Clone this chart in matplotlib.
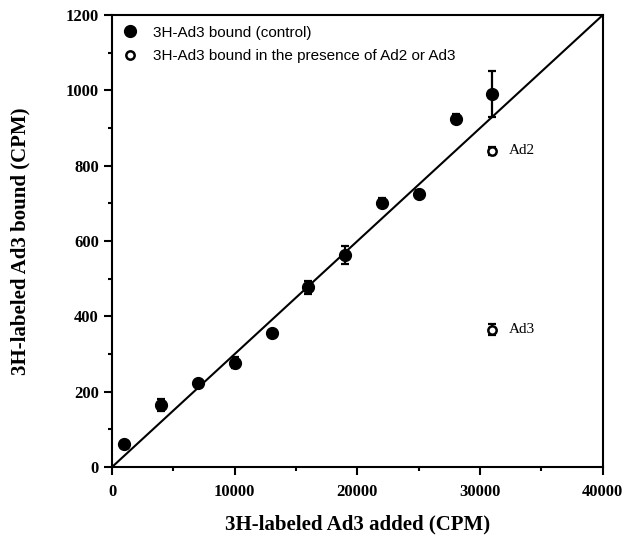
import matplotlib
matplotlib.use("Agg")
import matplotlib.pyplot as plt

# Control binding data
added = [1000, 4000, 7000, 10000, 13000, 16000, 19000, 22000, 25000, 28000, 31000]
bound = [60, 165, 222, 277, 357, 477, 563, 702, 726, 925, 990]
bound_err = [4, 15, 6, 15, 5, 18, 25, 12, 10, 12, 62]

# Competition points
comp_added = [31000, 31000]
comp_bound = [839, 365]
comp_err = [10, 15]
comp_labels = ["Ad2", "Ad3"]

# Reference line (bound = added * 0.03)
line_x = [0, 40000]
line_y = [0, 1200]

fig = plt.figure(figsize=(6.42, 5.36), dpi=100)
ax = fig.add_axes([0.1745, 0.1287, 0.7645, 0.8433])

ax.plot(line_x, line_y, color="black", lw=1.5, zorder=1)

# error bars first, markers on top (markers alone go to the legend)
ax.errorbar(added, bound, yerr=bound_err, fmt="none", ecolor="black",
            capsize=3, elinewidth=1.6, capthick=1.6, zorder=2)
ax.plot(added, bound, "o", color="black", ms=8.5, zorder=3,
        label="3H-Ad3 bound (control)")
ax.errorbar(comp_added, comp_bound, yerr=comp_err, fmt="none", ecolor="black",
            capsize=3, elinewidth=1.6, capthick=1.6, zorder=2)
ax.plot(comp_added, comp_bound, "o", mfc="white", mec="black", mew=1.8,
        ms=6, zorder=3, label="3H-Ad3 bound in the presence of Ad2 or Ad3")

for x, y, t in zip(comp_added, comp_bound, comp_labels):
    ax.text(x + 1300, y, t, fontsize=11, family="Liberation Serif",
            va="center", ha="left")

ax.set_xlim(0, 40000)
ax.set_ylim(0, 1200)
ax.set_xticks(range(0, 40001, 10000))
ax.set_xticks(range(0, 40001, 5000), minor=True)
ax.set_yticks(range(0, 1201, 200))
ax.set_yticks(range(0, 1201, 100), minor=True)
ax.tick_params(which="both", direction="out", width=1.5, top=False, right=False)
ax.tick_params(which="major", length=6)
ax.tick_params(which="minor", length=3)
ax.tick_params(axis="x", pad=6)
for lab in ax.get_xticklabels() + ax.get_yticklabels():
    lab.set_family("Liberation Serif")
    lab.set_fontweight("bold")
    lab.set_fontsize(12)
for s in ax.spines.values():
    s.set_linewidth(1.5)

ax.set_xlabel("3H-labeled Ad3 added (CPM)", fontsize=15, fontweight="bold",
              family="Liberation Serif", labelpad=11)
ax.set_ylabel("3H-labeled Ad3 bound (CPM)", fontsize=15, fontweight="bold",
              family="Liberation Serif", labelpad=25)

ax.legend(loc="upper left", frameon=False, handletextpad=1.0,
          borderaxespad=0.3, prop={"family": "Liberation Sans", "size": 11},
          handlelength=1.0, labelspacing=0.6)

fig.savefig("out.png", dpi=100)
